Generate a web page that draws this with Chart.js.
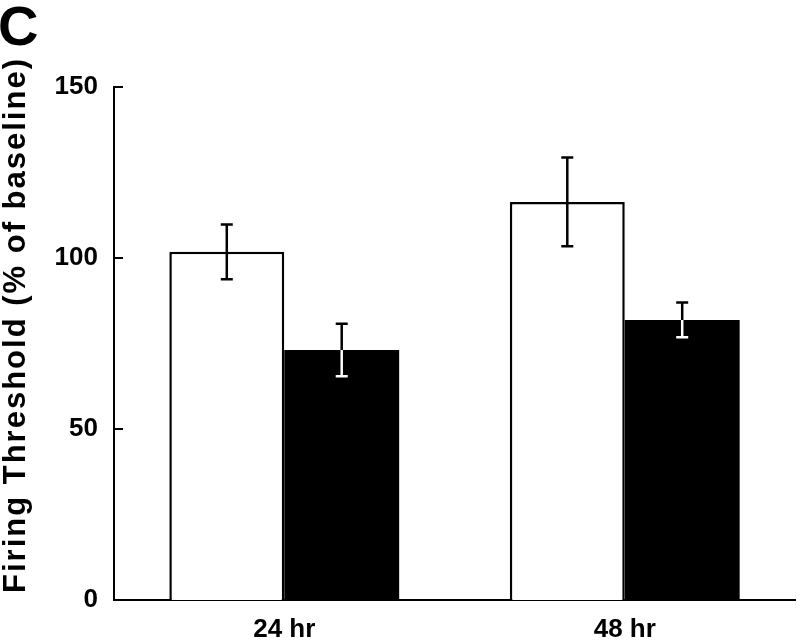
<!DOCTYPE html>
<html>
<head>
<meta charset="utf-8">
<script src="https://cdn.jsdelivr.net/npm/chart.js@4.4.1/dist/chart.umd.min.js"></script>
<style>
  html, body { margin: 0; padding: 0; background: #fff; }
  #wrap { width: 800px; height: 642px; position: relative; }
</style>
</head>
<body>
<div id="wrap"><canvas id="c" width="800" height="642"></canvas></div>
<script>
const categories = ['24 hr', '48 hr'];
const whiteMeans = [101.8, 116.4];
const whiteErr = [8.0, 13.0];
const blackMeans = [73.1, 81.9];
const blackErr = [7.7, 5.1];
const yTicks = [0, 50, 100, 150];
const yTitle = 'Firing Threshold (% of baseline)';
const panelLabel = 'C';

const FONT = "'Liberation Sans', Arial, Helvetica, sans-serif";

const errorBars = {
  id: 'errorBars',
  afterDatasetsDraw(chart) {
    const ctx = chart.ctx;
    const y = chart.scales.y;
    const errs = [whiteErr, blackErr];
    chart.data.datasets.forEach((ds, di) => {
      const meta = chart.getDatasetMeta(di);
      meta.data.forEach((bar, i) => {
        const v = ds.data[i], e = errs[di][i];
        const yHi = y.getPixelForValue(v + e);
        const yLo = y.getPixelForValue(v - e);
        const x = bar.x;
        const path = () => {
          ctx.beginPath();
          ctx.moveTo(x, yHi); ctx.lineTo(x, yLo);
          ctx.moveTo(x - 6, yHi); ctx.lineTo(x + 6, yHi);
          ctx.moveTo(x - 6, yLo); ctx.lineTo(x + 6, yLo);
        };
        ctx.save();
        ctx.lineWidth = 2.5;
        ctx.strokeStyle = '#000';
        path(); ctx.stroke();
        if (ds.backgroundColor === '#000') {
          ctx.beginPath();
          ctx.rect(bar.x - bar.width / 2, bar.y, bar.width, bar.base - bar.y);
          ctx.clip();
          ctx.strokeStyle = '#fff';
          path(); ctx.stroke();
        }
        ctx.restore();
      });
    });
  }
};

const decor = {
  id: 'decor',
  afterDraw(chart) {
    const ctx = chart.ctx;
    const y = chart.scales.y;
    const left = chart.chartArea.left;
    ctx.save();
    ctx.strokeStyle = '#000';
    ctx.lineWidth = 2;
    ctx.beginPath();
    yTicks.forEach(t => {
      const py = y.getPixelForValue(t);
      ctx.moveTo(left, py); ctx.lineTo(left + 9, py);
    });
    ctx.stroke();
    ctx.fillStyle = '#000';
    ctx.font = 'bold 56px ' + FONT;
    ctx.textAlign = 'left';
    ctx.textBaseline = 'alphabetic';
    ctx.fillText(panelLabel, -2, 45);
    ctx.translate(16, 325);
    ctx.rotate(-Math.PI / 2);
    ctx.font = 'bold 31px ' + FONT;
    if ('letterSpacing' in ctx) ctx.letterSpacing = '2px';
    ctx.textAlign = 'center';
    ctx.textBaseline = 'middle';
    ctx.fillText(yTitle, 0, 0);
    ctx.restore();
  }
};

new Chart(document.getElementById('c'), {
  type: 'bar',
  data: {
    labels: categories,
    datasets: [
      { data: whiteMeans, backgroundColor: '#fff', borderColor: '#000', borderWidth: 2.5, borderSkipped: 'bottom' },
      { data: blackMeans, backgroundColor: '#000', borderColor: '#000', borderWidth: 0 }
    ]
  },
  options: {
    responsive: false,
    animation: false,
    events: [],
    layout: { padding: { top: 87, right: 5, left: 0, bottom: 0 } },
    plugins: { legend: { display: false }, tooltip: { enabled: false }, title: { display: false } },
    datasets: { bar: { categoryPercentage: 0.675, barPercentage: 1.0 } },
    scales: {
      x: {
        grid: { display: false },
        border: { display: true, color: '#000', width: 2 },
        ticks: { color: '#000', font: { family: FONT, size: 26, weight: 'bold' }, padding: 6 },
        afterFit(s) { s.height = 42; }
      },
      y: {
        min: 0, max: 150,
        afterBuildTicks(s) { s.ticks = yTicks.map(v => ({ value: v })); },
        grid: { display: false },
        border: { display: true, color: '#000', width: 2 },
        ticks: { color: '#000', font: { family: FONT, size: 26, weight: 'bold' }, padding: 8 },
        afterFit(s) { s.width = 114; }
      }
    }
  },
  plugins: [errorBars, decor]
});
</script>
</body>
</html>
